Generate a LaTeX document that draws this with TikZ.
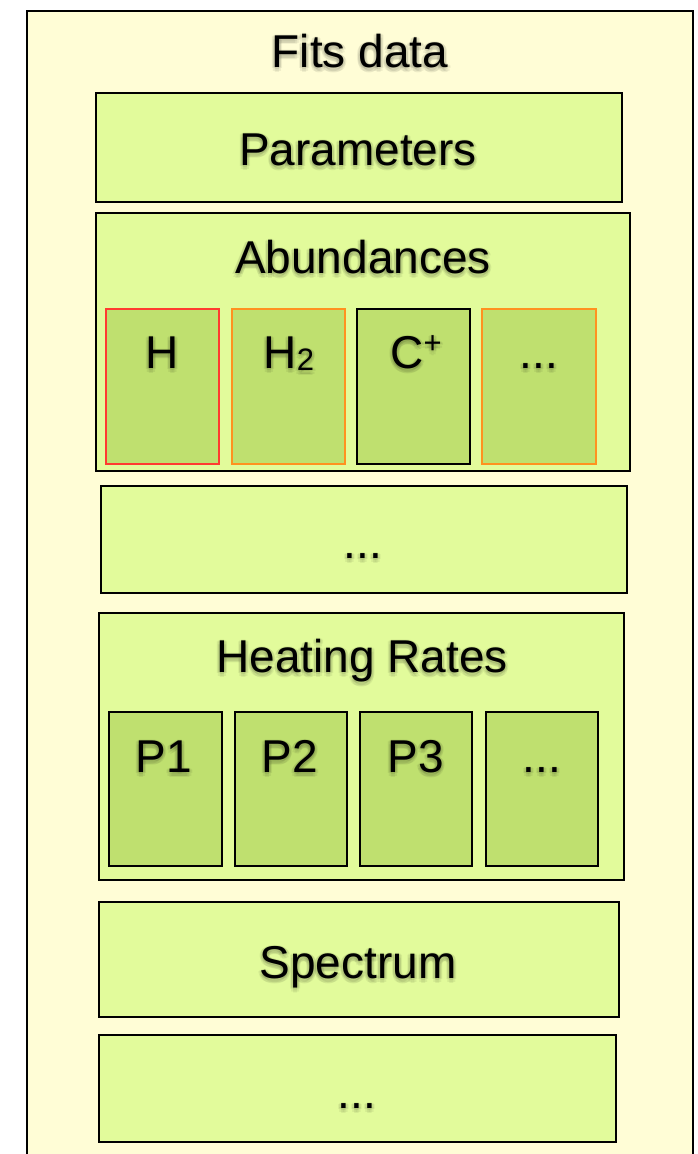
\documentclass[tikz,border=0pt]{standalone}
\usepackage{fontspec}
\setmainfont{Liberation Sans}
\definecolor{outerfill}{RGB}{255,253,214}
\definecolor{panelfill}{RGB}{226,251,155}
\definecolor{cellfill}{RGB}{191,224,111}
\definecolor{cellred}{RGB}{255,59,48}
\definecolor{cellorange}{RGB}{255,145,32}
\tikzset{
  frame/.style={draw=black, line width=2.6pt, fill=outerfill},
  panel/.style={draw=black, line width=2.3pt, fill=panelfill},
  cell/.style={draw=#1, line width=2pt, fill=cellfill},
  lbl/.style={font=\fontsize{46}{46}\selectfont, text=black, inner sep=0pt, anchor=base},
  glow/.style={lbl, text opacity=0.06},
}
% rectangle node from its top-left and bottom-right corners
\newcommand\boxat[6]{%
  \node[#1, anchor=north west, inner sep=0pt, outer sep=0pt,
        minimum width={(#5-#3)*1pt}, minimum height={(#6-#4)*1pt}]
        (#2) at (#3,#4) {};}
% label placed by its baseline centre, with a soft dark glow underneath
\newcommand\labelat[4]{%
  \foreach \dx/\dy in {-3/1,3/1,0/-1,0/5,-2/4,2/4,-2/0,2/0,0/2}
    \node[glow] at (#1+\dx,#2+\dy) {#4};
  \node[lbl] (#3) at (#1,#2) {#4};}
\newcommand\subtwo{\raisebox{-2pt}{\fontsize{31}{31}\selectfont 2}}
\newcommand\supplus{\raisebox{15pt}{\fontsize{31}{31}\selectfont +}}
\begin{document}
\begin{tikzpicture}[x=1pt,y=-1pt]
\useasboundingbox (0,0) rectangle (698,1154);
\clip (0,0) rectangle (698,1154);
\fill[white] (0,0) rectangle (698,1154);

% outer container
\boxat{frame}{fits}{27}{11}{693}{1180}
\labelat{360}{67}{fitsLbl}{Fits data}

% parameters
\boxat{panel}{params}{96}{93}{622}{202}
\labelat{358}{165}{paramsLbl}{Parameters}

% abundances with species cells
\boxat{panel}{abund}{96}{213}{630}{471}
\labelat{363}{273}{abundLbl}{Abundances}
\boxat{cell=cellred}{cH}{106}{309}{219}{464}
\boxat{cell=cellorange}{cHtwo}{232}{309}{345}{464}
\boxat{cell=black}{cCp}{357}{309}{470}{464}
\boxat{cell=cellorange}{cAmore}{482}{309}{596}{464}
\labelat{162}{368}{cHLbl}{H}
\labelat{289}{368}{cHtwoLbl}{H\subtwo}
\labelat{416}{368}{cCpLbl}{C\supplus}
\labelat{539}{368}{cAmoreLbl}{...}

% further datasets
\boxat{panel}{more}{101}{486}{627}{593}
\labelat{363}{558}{moreLbl}{...}

% heating rates with process cells
\boxat{panel}{heat}{99}{613}{624}{880}
\labelat{362}{672}{heatLbl}{Heating Rates}
\boxat{cell=black}{pOne}{109}{712}{222}{866}
\boxat{cell=black}{pTwo}{235}{712}{347}{866}
\boxat{cell=black}{pThree}{360}{712}{472}{866}
\boxat{cell=black}{pMore}{486}{712}{598}{866}
\labelat{164}{772}{pOneLbl}{P1}
\labelat{290}{772}{pTwoLbl}{P2}
\labelat{416}{772}{pThreeLbl}{P3}
\labelat{542}{772}{pMoreLbl}{...}

% spectrum
\boxat{panel}{spec}{99}{902}{619}{1017}
\labelat{358}{978}{specLbl}{Spectrum}

% trailing datasets
\boxat{panel}{tail}{99}{1035}{616}{1142}
\labelat{357}{1108}{tailLbl}{...}
\end{tikzpicture}
\end{document}
